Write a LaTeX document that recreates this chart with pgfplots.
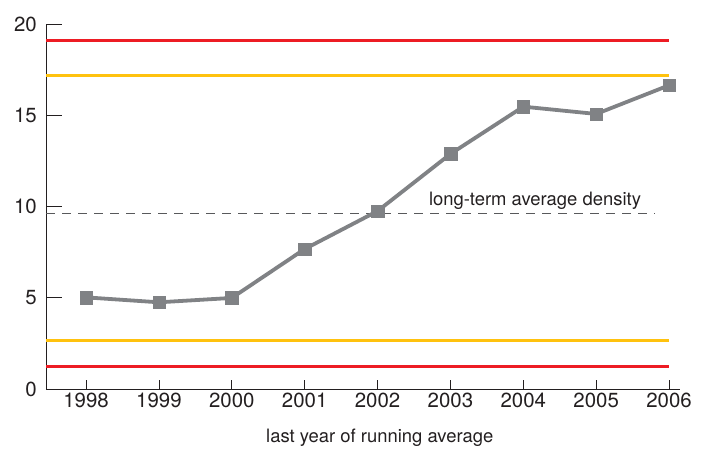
\documentclass[border=0pt]{standalone}
\usepackage{fontspec}
\setmainfont{TeX Gyre Heros}
\usepackage{pgfplots}
\pgfplotsset{compat=1.18}
\definecolor{cred}{HTML}{ED1C24}
\definecolor{cyel}{HTML}{FFC20E}
\definecolor{cgray}{HTML}{808285}
\definecolor{ctext}{HTML}{231F20}
\definecolor{cdash}{HTML}{58595B}
\begin{document}
\begin{tikzpicture}[x=1bp,y=1bp]
\useasboundingbox (0,0) rectangle (712,449);
\begin{axis}[
  at={(46bp,60bp)}, anchor=south west,
  scale only axis, width=634bp, height=365bp,
  xmin=1997.45, xmax=2006.15, ymin=0, ymax=20,
  axis x line*=bottom, axis y line*=left,
  axis line style={ctext, line width=0.8bp, -},
  xtick={1998,1999,2000,2001,2002,2003,2004,2005,2006},
  xticklabels={1998,1999,2000,2001,2002,2003,2004,2005,2006},
  ytick={0,5,10,15,20},
  tick align=inside,
  tick style={ctext, line width=0.8bp},
  xtick style={/pgfplots/major tick length=9bp},
  ytick style={/pgfplots/major tick length=16bp},
  /pgf/number format/assume math mode=true,
  ticklabel style={font=\fontsize{20.5}{24}\selectfont, text=ctext},
  yticklabel style={inner sep=0pt, xshift=-9bp},
  xticklabel style={inner sep=0pt, yshift=-4bp},
  clip=false,
]
\addplot[cred, line width=3bp, forget plot] coordinates {(1997.45,19.1) (2006,19.1)};
\addplot[cyel, line width=3bp, forget plot] coordinates {(1997.45,17.2) (2006,17.2)};
\addplot[cyel, line width=3bp, forget plot] coordinates {(1997.45,2.68) (2006,2.68)};
\addplot[cred, line width=3bp, forget plot] coordinates {(1997.45,1.22) (2006,1.22)};
\addplot[cdash, line width=1.2bp, dash pattern=on 9bp off 7bp, forget plot] coordinates {(1997.45,9.63) (2005.8,9.63)};
\addplot[cgray, line width=3.8bp, mark=square*, mark size=6.3bp,
  mark options={solid, fill=cgray, draw=cgray, line width=0.3bp}] coordinates {
  (1998,5.02) (1999,4.75) (2000,4.99) (2001,7.67) (2002,9.75)
  (2003,12.88) (2004,15.47) (2005,15.07) (2006,16.64)};
\node[text=ctext, font=\fontsize{18.5}{22}\selectfont] at (axis cs:2004.16,10.3) {long-term average density};
\node[text=ctext, font=\fontsize{18.5}{22}\selectfont, anchor=base, yshift=-54bp] at (axis cs:2002.03,0) {last year of running average};
\end{axis}
\end{tikzpicture}
\end{document}
